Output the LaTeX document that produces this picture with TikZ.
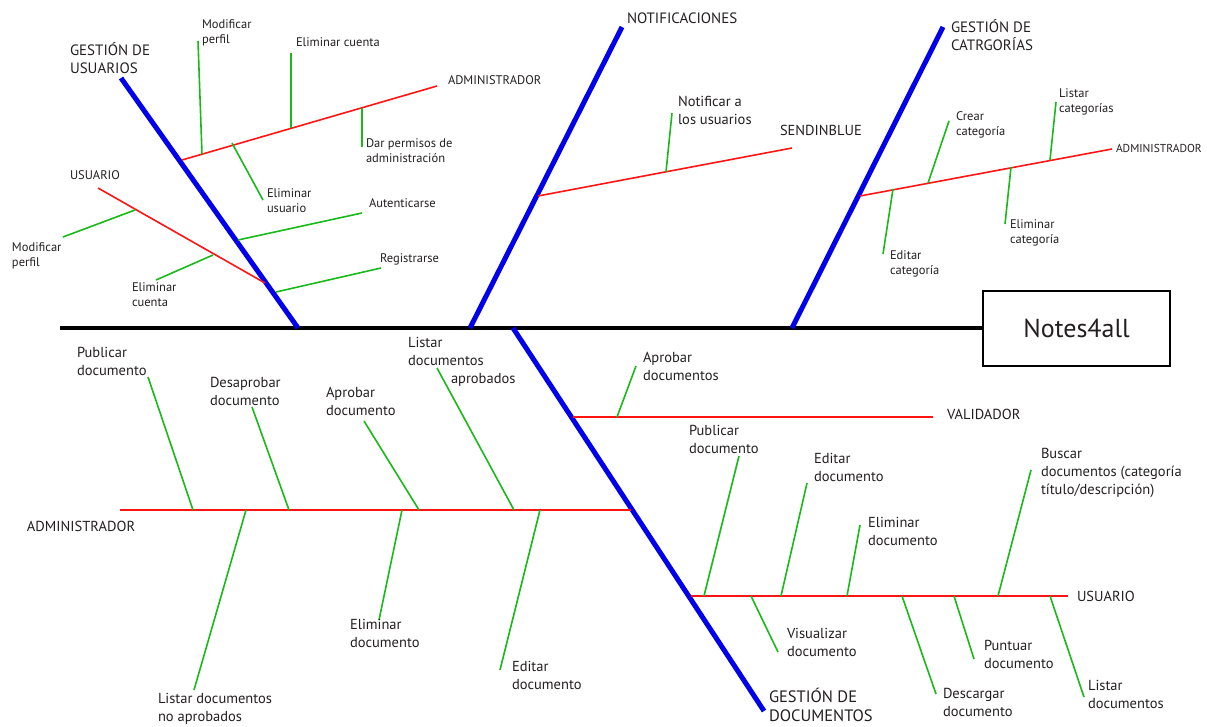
\documentclass[tikz,border=0pt]{standalone}
\usepackage{fontspec}
\setmainfont{PT Sans}
\definecolor{bonecol}{RGB}{0,0,235}
\definecolor{branchcol}{RGB}{255,20,20}
\definecolor{leafcol}{RGB}{25,185,25}
\definecolor{ink}{RGB}{35,31,32}
\tikzset{
  spine/.style={line width=4pt, draw=black},
  bone/.style={line width=5pt, draw=bonecol},
  branch/.style={line width=1.6pt, draw=branchcol},
  leaf/.style={line width=1.6pt, draw=leafcol},
  lbl/.style={anchor=base west, inner sep=0pt, outer sep=0pt, text=ink},
  small/.style={lbl, font=\fontsize{12.5}{15}\selectfont},
  tiny/.style={lbl, font=\fontsize{11.5}{14}\selectfont},
  mid/.style={lbl, font=\fontsize{14.5}{18}\selectfont},
  head/.style={lbl, font=\fontsize{15}{18}\selectfont},
  bighead/.style={lbl, font=\fontsize{16.5}{19}\selectfont},
  sysbox/.style={draw=black, line width=2pt, minimum width=187pt, minimum height=75pt,
                 inner sep=0pt, text=ink, font=\fontsize{26}{30}\selectfont},
}
% multi-line label whose baseline is the first line's
\newcommand{\ml}[1]{\begin{tabular}[t]{@{}l@{}}#1\end{tabular}}
% a green twig: two named ends and the line between them
\newcommand{\twig}[3]{\coordinate (#1-a) at (#2); \coordinate (#1-b) at (#3); \draw[leaf] (#1-a) -- (#1-b);}

\begin{document}
\begin{tikzpicture}[x=1pt, y=-1pt]
\useasboundingbox (0,0) rectangle (1207,726);

% ---- head and spine ----
\node[sysbox] (sys) at (1076.5,328) {Notes4all};
\coordinate (tail) at (60,328);
\draw[spine] (tail) -- (sys.west);

% ---- main bones ----
\coordinate (bU0) at (298,328);  \coordinate (bU1) at (121,78);
\coordinate (bN0) at (470,328);  \coordinate (bN1) at (622,27);
\coordinate (bC0) at (792,328);  \coordinate (bC1) at (943,27);
\coordinate (bD0) at (513,328);  \coordinate (bD1) at (764,711);
\draw[bone] (bU0) -- (bU1);
\draw[bone] (bN0) -- (bN1);
\draw[bone] (bC0) -- (bC1);
\draw[bone] (bD0) -- (bD1);

\node[head] (tU) at (70,55) {\ml{GESTIÓN DE\\USUARIOS}};
\node[head] (tN) at (627,23) {NOTIFICACIONES};
\node[head] (tC) at (951,32) {\ml{GESTIÓN DE\\CATRGORÍAS}};
\node[bighead] (tD) at (769,702) {\ml{GESTIÓN DE\\DOCUMENTOS}};

% ---- actor branches ----
\coordinate (uA0) at (182,160);  \coordinate (uA1) at (437,86);
\coordinate (uU0) at (265,283);  \coordinate (uU1) at (98,188);
\coordinate (nS0) at (538,196);  \coordinate (nS1) at (792,148);
\coordinate (cA0) at (860,196);  \coordinate (cA1) at (1112,149);
\coordinate (dV0) at (573,417);  \coordinate (dV1) at (933,417);
\coordinate (dA0) at (631,510);  \coordinate (dA1) at (120,510);
\coordinate (dU0) at (691,596);  \coordinate (dU1) at (1068,596);
\foreach \b in {uA,uU,nS,cA,dV,dA,dU} \draw[branch] (\b0) -- (\b1);

\node[small] (luA) at (448,84) {ADMINISTRADOR};
\node[small] (luU) at (70,179) {USUARIO};
\node[mid]   (lnS) at (780,135) {SENDINBLUE};
\node[tiny]  (lcA) at (1116,152) {ADMINISTRADOR};
\node[mid]   (ldV) at (947,419) {VALIDADOR};
\node[mid]   (ldA) at (27,531) {ADMINISTRADOR};
\node[mid]   (ldU) at (1077,601) {USUARIO};

% ---- usuarios: administrador ----
\twig{ua1}{198,41}{202,154}
\twig{ua2}{291,53}{291,128}
\twig{ua3}{362,108}{362,147}
\twig{ua4}{232,143}{263,200}
\node[small] (lua1) at (202,28) {\ml{Modificar\\perfil}};
\node[small] (lua2) at (296,46) {Eliminar cuenta};
\node[small] (lua3) at (366,147) {\ml{Dar permisos de\\administración}};
\node[small] (lua4) at (267,197) {\ml{Eliminar\\usuario}};

% ---- usuarios: usuario ----
\twig{uu1}{63,237}{135,210}
\twig{uu2}{156,280}{213,255}
\twig{ub1}{238,240}{362,213}
\twig{ub2}{276,292}{381,268}
\node[small] (luu1) at (12,251) {\ml{Modificar\\perfil}};
\node[small] (luu2) at (132,291) {\ml{Eliminar\\cuenta}};
\node[small] (lub1) at (369,207) {Autenticarse};
\node[small] (lub2) at (380,262) {Registrarse};

% ---- notificaciones ----
\twig{ns1}{672,113}{666,172}
\node[mid] (lns1) at (678,106) {\ml{Notificar a\\los usuarios}};

% ---- categorías ----
\twig{ca1}{949,121}{928,183}
\twig{ca2}{1056,102}{1050,160}
\twig{ca3}{893,189}{883,254}
\twig{ca4}{1011,167}{1005,224}
\node[small] (lca1) at (956,120) {\ml{Crear\\categoría}};
\node[small] (lca2) at (1059,97) {\ml{Listar\\categorías}};
\node[small] (lca3) at (890,259) {\ml{Editar\\categoría}};
\node[small] (lca4) at (1010,228) {\ml{Eliminar\\categoría}};

% ---- documentos: validador ----
\twig{dv1}{636,366}{617,417}
\node[mid] (ldv1) at (643,362) {\ml{Aprobar\\documentos}};

% ---- documentos: administrador ----
\twig{da1}{148,377}{193,510}
\twig{da2}{252,407}{289,510}
\twig{da3}{364,421}{419,510}
\twig{da4}{437,368}{514,510}
\twig{da5}{246,510}{194,690}
\twig{da6}{402,510}{379,620}
\twig{da7}{540,510}{500,670}
\node[mid] (lda1) at (77,357) {\ml{Publicar\\documento}};
\node[mid] (lda2) at (210,387) {\ml{Desaprobar\\documento}};
\node[mid] (lda3) at (326,397) {\ml{Aprobar\\documento}};
\node[mid] (lda4) at (408,347) {\ml{Listar\\documentos\\\hspace*{43pt}aprobados}};
\node[mid] (lda5) at (158,703) {\ml{Listar documentos\\no aprobados}};
\node[mid] (lda6) at (350,629) {\ml{Eliminar\\documento}};
\node[mid] (lda7) at (512,671) {\ml{Editar\\documento}};

% ---- documentos: usuario ----
\twig{du1}{739,456}{704,596}
\twig{du2}{807,483}{781,596}
\twig{du3}{860,525}{847,596}
\twig{du4}{1031,470}{998,596}
\twig{du5}{751,596}{778,652}
\twig{du6}{902,596}{936,694}
\twig{du7}{954,596}{974,659}
\twig{du8}{1050,596}{1084,697}
\node[mid] (ldu1) at (689,435) {\ml{Publicar\\documento}};
\node[mid] (ldu2) at (814,463) {\ml{Editar\\documento}};
\node[mid] (ldu3) at (868,527) {\ml{Eliminar\\documento}};
\node[mid] (ldu4) at (1041,458) {\ml{Buscar\\documentos (categoría\\título/descripción)}};
\node[mid] (ldu5) at (787,638) {\ml{Visualizar\\documento}};
\node[mid] (ldu6) at (943,698) {\ml{Descargar\\documento}};
\node[mid] (ldu7) at (984,650) {\ml{Puntuar\\documento}};
\node[mid] (ldu8) at (1088,690) {\ml{Listar\\documentos}};
\end{tikzpicture}
\end{document}
